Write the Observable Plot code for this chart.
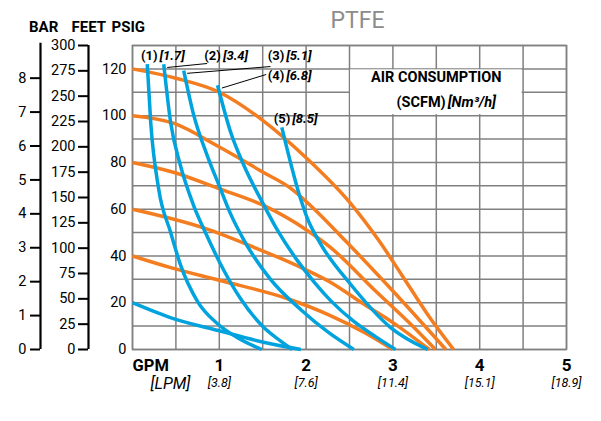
<!DOCTYPE html>
<html>
<head>
<meta charset="utf-8">
<script src="https://cdn.jsdelivr.net/npm/d3@7"></script>
<script src="https://cdn.jsdelivr.net/npm/@observablehq/plot@0.6"></script>
<style>
  body { margin: 0; background: #fff; }
</style>
</head>
<body>
<div id="chart"></div>
<script>
// ---- axis ticks / labels ----
const gpmTicks = [1, 2, 3, 4, 5];
const lpmLabels = ["[3.8]", "[7.6]", "[11.4]", "[15.1]", "[18.9]"];
const psigTicks = [0, 20, 40, 60, 80, 100, 120];
const feetTicks = [0, 25, 50, 75, 100, 125, 150, 175, 200, 225, 250, 275, 300];
const barTicks = [0, 1, 2, 3, 4, 5, 6, 7, 8];

// ---- air inlet pressure curves (orange), [GPM, PSIG] ----
const orange120 = [[0,120],[0.5,116],[1.0,110],[1.5,98],[2.0,82],[2.5,63],[2.83,47],[3.1,32],[3.4,15],[3.70,0]];
const orange100 = [[0,100],[0.48,96.7],[0.98,87],[1.51,75.7],[1.82,69],[2.05,61.6],[2.45,46.6],[3.0,25],[3.61,0]];
const orange80  = [[0,80],[0.48,75.7],[0.98,69],[1.51,61.6],[2.01,51],[2.28,43.7],[2.8,25],[3.2,11],[3.49,0]];
const orange60  = [[0,60],[0.82,52],[1.40,43.7],[1.97,34.6],[2.28,28.8],[2.66,19.5],[3.0,11.5],[3.42,0]];
const orange40  = [[0,40],[0.44,35],[1.01,29.5],[1.78,21.8],[2.28,14.5],[2.66,7.5],[3.0,0]];

// ---- blue curves, [GPM, PSIG] ----
const blue20 = [[0,20],[0.47,13.2],[0.99,8.1],[1.51,3.1],[1.94,0]];
const air1 = [[0.17,122],[0.21,97],[0.30,69],[0.44,50],[0.55,36.5],[0.75,20.5],[0.98,11],[1.21,5],[1.49,0]];
const air2 = [[0.36,122],[0.44,97],[0.55,79],[0.70,62],[0.84,50],[1.05,34],[1.24,22],[1.51,9.5],[1.70,3.8],[1.84,0]];
const air3 = [[0.59,119.3],[0.70,101],[0.86,83],[1.01,69],[1.13,58],[1.28,47],[1.59,30],[1.94,17],[2.25,7.5],[2.55,0]];
const air4 = [[0.98,113],[1.13,93],[1.28,79],[1.51,62],[1.67,51],[1.90,38],[2.10,28.5],[2.28,21],[2.55,12],[2.8,5.5],[3.03,0]];
const air5 = [[1.72,95],[1.94,64],[2.01,56.5],[2.17,45],[2.51,28],[2.97,9.5],[3.40,0]];

// ---- curve labels ----
const curveNums = ["(1)", "(2)", "(3)", "(4)", "(5)"];
const curveAir = ["[1.7]", "[3.4]", "[5.1]", "[6.8]", "[8.5]"];
const labelGpm = [0.30, 1.03, 1.76, 1.76, 1.83];
const labelPsig = [125.7, 125.7, 125.7, 117.2, 98.8];
const leaderFrom = [[0.86,122.3],[1.59,121],[1.54,117.6]];
const leaderTo = [[0.40,120.6],[0.63,118.1],[1.03,111.8]];

// ---- conversions ----
const FEET_PER_PSI = 300 / 130;
const PSI_PER_BAR = 14.5038;

const toRows = (arr, name) => arr.map(([g, p]) => ({name, gpm: g, psig: p}));
const orangeRows = [
  ...toRows(orange120, "o120"), ...toRows(orange100, "o100"), ...toRows(orange80, "o80"),
  ...toRows(orange60, "o60"), ...toRows(orange40, "o40")
];
const blueRows = [
  ...toRows(blue20, "b20"), ...toRows(air1, "a1"), ...toRows(air2, "a2"),
  ...toRows(air3, "a3"), ...toRows(air4, "a4"), ...toRows(air5, "a5")
];
const labels = curveNums.map((n, i) => ({num: n, air: curveAir[i], gpm: labelGpm[i], psig: labelPsig[i]}));
const leaders = leaderFrom.map((f, i) => ({x1: f[0], y1: f[1], x2: leaderTo[i][0], y2: leaderTo[i][1]}));

const ORANGE = "#f47d20";
const BLUE = "#00a3dd";
const GRID = "#808080";
const FONT = "Roboto, 'Liberation Sans', sans-serif";
const mid = {lineAnchor: "middle"};

const chart = Plot.plot({
  width: 601,
  height: 421,
  marginLeft: 132,
  marginRight: 35,
  marginTop: 45,
  marginBottom: 72,
  style: {fontFamily: FONT, fontSize: "14px", background: "#fff", color: "#000"},
  x: {domain: [0, 5], label: null, axis: null},
  y: {domain: [0, 130], label: null},
  marks: [
    // grid
    Plot.gridX({ticks: d3.range(0, 5.01, 0.5), stroke: GRID, strokeOpacity: 1, strokeWidth: 1.5}),
    Plot.gridY({ticks: d3.range(0, 131, 10), stroke: GRID, strokeOpacity: 1, strokeWidth: 1.5}),
    Plot.frame({stroke: GRID, strokeWidth: 1.5}),
    // legend box
    Plot.rect([0], {x1: 2.5, x2: 4.5, y1: 100, y2: 120, fill: "white", inset: 1}),
    Plot.text(["AIR CONSUMPTION"], {x: 3.5, y: 116.3, fontWeight: "bold", fontSize: 14.5, ...mid}),
    Plot.text(["(SCFM)"], {x: 3.62, y: 105.6, textAnchor: "end", dx: -1, fontWeight: "bold", fontSize: 14.5, ...mid}),
    Plot.text(["[Nm³/h]"], {x: 3.62, y: 105.6, textAnchor: "start", dx: 1, fontWeight: "bold", fontStyle: "italic", fontSize: 14.5, ...mid}),
    // curves
    Plot.line(orangeRows, {x: "gpm", y: "psig", z: "name", stroke: ORANGE, strokeWidth: 3.5, curve: "monotone-x", strokeLinecap: "butt"}),
    Plot.line(blueRows, {x: "gpm", y: "psig", z: "name", stroke: BLUE, strokeWidth: 3.5, curve: "monotone-x", strokeLinecap: "butt"}),
    // curve labels
    Plot.link(leaders, {x1: "x1", y1: "y1", x2: "x2", y2: "y2", stroke: "black", strokeWidth: 1}),
    Plot.text(labels, {x: "gpm", y: "psig", text: "num", textAnchor: "end", dx: -1, fontWeight: "bold", fontSize: 13, ...mid}),
    Plot.text(labels, {x: "gpm", y: "psig", text: "air", textAnchor: "start", dx: 1, fontWeight: "bold", fontStyle: "italic", fontSize: 13, ...mid}),
    // PSIG axis
    Plot.axisY({ticks: psigTicks, tickSize: 0, tickPadding: 6, fontSize: 14.5, label: null}),
    // FEET axis
    Plot.ruleX([0], {y1: 0, y2: 130, dx: -44, stroke: "black", strokeWidth: 2.2}),
    Plot.axisY({ticks: feetTicks.map(f => f / FEET_PER_PSI), tickFormat: d => String(Math.round(d * FEET_PER_PSI)),
      tickSize: 10, tickPadding: 3, dx: -44, stroke: "black", strokeWidth: 2, fontSize: 14.5, label: null}),
    // BAR axis
    Plot.ruleX([0], {y1: 0, y2: 131, dx: -92, stroke: "black", strokeWidth: 2.2}),
    Plot.axisY({ticks: barTicks.map(b => b * PSI_PER_BAR), tickFormat: d => String(Math.round(d / PSI_PER_BAR)),
      tickSize: 10, tickPadding: 4, dx: -92, stroke: "black", strokeWidth: 2, fontSize: 14.5, label: null}),
    // headers
    Plot.text(["BAR"], {frameAnchor: "top-left", dx: -103.5, dy: -18, fontWeight: "bold", fontSize: 15, ...mid}),
    Plot.text(["FEET"], {frameAnchor: "top-left", dx: -61, dy: -18, fontWeight: "bold", fontSize: 15, ...mid}),
    Plot.text(["PSIG"], {frameAnchor: "top-left", dx: -21, dy: -18, fontWeight: "bold", fontSize: 15, ...mid}),
    // title
    Plot.text(["PTFE"], {frameAnchor: "top", dx: 8, dy: -25, fontSize: 23, fill: "#8c8c8c", ...mid}),
    // X axis labels
    Plot.text(gpmTicks, {x: d => d, frameAnchor: "bottom", dy: 16, fontWeight: "bold", fontSize: 17, ...mid}),
    Plot.text(gpmTicks, {x: d => d, text: (d, i) => lpmLabels[i], frameAnchor: "bottom", dy: 33, fontStyle: "italic", fontSize: 12.5, ...mid}),
    Plot.text(["GPM"], {frameAnchor: "bottom-left", textAnchor: "start", dy: 16, fontWeight: "bold", fontSize: 16.5, ...mid}),
    Plot.text(["[LPM]"], {frameAnchor: "bottom-left", dx: 18, dy: 34, fontStyle: "italic", fontSize: 16, ...mid})
  ]
});
document.getElementById("chart").appendChild(chart);
</script>
</body>
</html>
